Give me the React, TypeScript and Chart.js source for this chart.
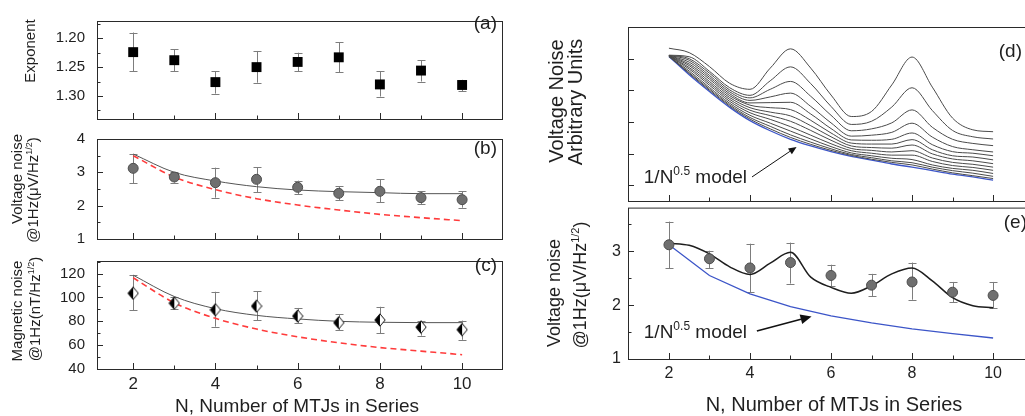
import { useEffect, useRef } from 'react';
import { Chart, registerables } from 'chart.js';

Chart.register(...registerables);

const FONT = '"Liberation Sans", Arial, Helvetica, sans-serif';
const INK = '#1f1f1f';
const FRAME = '#2a2a2a';
const ERR = '#7d7d7d';

// ---------------- data ----------------
const nMTJ = [2, 3, 4, 5, 6, 7, 8, 9, 10];
const xMajor = [2, 4, 6, 8, 10];
const xMinor = [3, 5, 7, 9];
const xTickLabels = ['2', '4', '6', '8', '10'];

// (a) exponent
const exponent = [1.224, 1.238, 1.276, 1.25, 1.241, 1.233, 1.28, 1.256, 1.281];
const exponentErrA = [1.19, 1.219, 1.257, 1.222, 1.225, 1.207, 1.257, 1.238, 1.272];
const exponentErrB = [1.257, 1.257, 1.296, 1.277, 1.257, 1.259, 1.301, 1.275, 1.292];
const expTicks = [1.2, 1.25, 1.3];
const expTickLabels = ['1.20', '1.25', '1.30'];
const expMinor = [1.175, 1.225, 1.275, 1.325];

// (b) / (e) voltage noise
const voltNoise = [3.12, 2.86, 2.69, 2.79, 2.55, 2.37, 2.43, 2.24, 2.18];
const voltNoiseHigh = [3.55, 3.01, 3.14, 3.16, 2.75, 2.58, 2.79, 2.43, 2.43];
const voltNoiseLow = [2.68, 2.69, 2.24, 2.4, 2.35, 2.17, 2.1, 2.05, 1.94];
const voltFitB = [3.55, 3.0, 2.74, 2.57, 2.47, 2.42, 2.39, 2.36, 2.36];
const voltModelB = [3.5, 2.86, 2.48, 2.21, 2.02, 1.87, 1.74, 1.64, 1.55];
const voltTicks = [1, 2, 3, 4];
const voltTickLabels = ['1', '2', '3', '4'];
const voltMinor = [1.5, 2.5, 3.5];

// (c) magnetic noise
const magNoise = [103.5, 95.2, 89.7, 92.7, 84.4, 78.9, 81.1, 75.1, 73.0];
const magNoiseHigh = [118.9, 100.2, 104.8, 105.3, 91.2, 85.9, 92.2, 80.6, 80.6];
const magNoiseLow = [89.4, 90.2, 75.5, 81.0, 78.3, 72.5, 70.0, 68.0, 64.5];
const magFit = [118.7, 100.8, 90.6, 85.0, 82.0, 80.0, 79.2, 78.9, 78.9];
const magModel = [116.5, 95.5, 82.5, 73.5, 67.0, 62.0, 58.0, 55.0, 52.0];
const magTicks = [40, 60, 80, 100, 120];
const magTickLabels = ['40', '60', '80', '100', '120'];
const magMinor = [50, 70, 90, 110, 130];

// (d) simulated family (arbitrary units)
const nFine = [2, 2.5, 3, 3.5, 4, 4.5, 5, 5.5, 6, 6.5, 7, 7.5, 8, 8.5, 9, 9.5, 10];
const dModel = [4.57, 3.99, 3.46, 2.96, 2.54, 2.22, 1.95, 1.74, 1.56, 1.41, 1.29, 1.17, 1.07, 0.96, 0.85, 0.76, 0.66];
const dCurve12 = [4.83, 4.69, 4.25, 3.72, 3.53, 4.2, 4.81, 4.2, 3.35, 2.67, 2.83, 3.67, 4.55, 3.6, 2.62, 2.25, 2.19];
const dCurve11 = [4.61, 4.56, 4.1, 3.58, 3.34, 3.8, 4.24, 3.71, 2.99, 2.42, 2.52, 2.97, 3.58, 2.86, 2.23, 2.03, 1.96];
const dCurve10 = [4.6, 4.5, 4.04, 3.51, 3.26, 3.53, 3.78, 3.31, 2.71, 2.22, 2.28, 2.47, 2.88, 2.33, 1.95, 1.82, 1.75];
const dCurve9 = [4.6, 4.45, 3.97, 3.45, 3.18, 3.29, 3.41, 2.99, 2.47, 2.05, 2.08, 2.17, 2.46, 2.02, 1.72, 1.62, 1.55];
const dCurve8 = [4.59, 4.39, 3.91, 3.39, 3.1, 3.11, 3.12, 2.75, 2.29, 1.93, 1.92, 1.95, 2.15, 1.78, 1.56, 1.51, 1.43];
const dCurve7 = [4.59, 4.33, 3.85, 3.33, 3.03, 2.95, 2.89, 2.55, 2.15, 1.83, 1.8, 1.8, 1.94, 1.62, 1.43, 1.39, 1.3];
const dCurve6 = [4.58, 4.28, 3.78, 3.27, 2.95, 2.81, 2.69, 2.38, 2.03, 1.74, 1.69, 1.67, 1.77, 1.49, 1.33, 1.27, 1.18];
const dCurve5 = [4.58, 4.22, 3.72, 3.21, 2.87, 2.7, 2.52, 2.23, 1.92, 1.66, 1.6, 1.55, 1.59, 1.36, 1.22, 1.16, 1.07];
const dCurve4 = [4.58, 4.17, 3.66, 3.15, 2.79, 2.58, 2.35, 2.08, 1.81, 1.59, 1.51, 1.45, 1.45, 1.25, 1.12, 1.06, 0.97];
const dCurve3 = [4.57, 4.11, 3.59, 3.09, 2.71, 2.46, 2.21, 1.96, 1.72, 1.52, 1.43, 1.35, 1.31, 1.14, 1.03, 0.97, 0.87];
const dCurve2 = [4.57, 4.06, 3.54, 3.04, 2.64, 2.36, 2.09, 1.86, 1.65, 1.47, 1.37, 1.27, 1.21, 1.07, 0.96, 0.88, 0.78];
const dCurve1 = [4.57, 4.03, 3.5, 3.0, 2.59, 2.28, 2.01, 1.79, 1.6, 1.44, 1.32, 1.22, 1.14, 1.01, 0.89, 0.8, 0.71];
const dCurves = [dCurve12, dCurve11, dCurve10, dCurve9, dCurve8, dCurve7, dCurve6, dCurve5, dCurve4, dCurve3, dCurve2, dCurve1];
const dTicks = [0.5, 1.5, 2.5, 3.5, 4.5];

// (e) oscillating fit and model
const eFit = [3.15, 3.11, 2.95, 2.71, 2.57, 2.78, 2.98, 2.52, 2.33, 2.22, 2.36, 2.58, 2.69, 2.45, 2.14, 1.99, 1.95];
const eModel = [3.12, 2.55, 2.21, 1.97, 1.8, 1.67, 1.56, 1.47, 1.39];
const eTicks = [1, 2, 3];
const eTickLabels = ['1', '2', '3'];
const eMinor = [1.5, 2.5, 3.5];

// ---------------- helpers ----------------
type Part = { t: string; sup?: boolean };

function drawRich(ctx: CanvasRenderingContext2D, parts: Part[], x: number, y: number, size: number, align: 'left' | 'center' | 'right') {
  const supSize = Math.round(size * 0.62);
  const widths = parts.map((p) => {
    ctx.font = `${p.sup ? supSize : size}px ${FONT}`;
    return ctx.measureText(p.t).width;
  });
  const total = widths.reduce((a, b) => a + b, 0);
  let cx = align === 'center' ? x - total / 2 : align === 'right' ? x - total : x;
  ctx.textAlign = 'left';
  ctx.textBaseline = 'alphabetic';
  parts.forEach((p, i) => {
    ctx.font = `${p.sup ? supSize : size}px ${FONT}`;
    ctx.fillText(p.t, cx, p.sup ? y - size * 0.4 : y);
    cx += widths[i];
  });
}

function pts(xs: number[], ys: number[]) {
  return xs.map((x, i) => ({ x, y: ys[i] }));
}

function makeDiamond(): HTMLCanvasElement {
  const c = document.createElement('canvas');
  c.width = 12;
  c.height = 14;
  const g = c.getContext('2d')!;
  g.beginPath();
  g.moveTo(6, 0.8);
  g.lineTo(11.2, 7);
  g.lineTo(6, 13.2);
  g.lineTo(0.8, 7);
  g.closePath();
  g.fillStyle = '#fff';
  g.fill();
  g.beginPath();
  g.moveTo(6, 0.8);
  g.lineTo(6, 13.2);
  g.lineTo(0.8, 7);
  g.closePath();
  g.fillStyle = '#000';
  g.fill();
  g.beginPath();
  g.moveTo(6, 0.8);
  g.lineTo(11.2, 7);
  g.lineTo(6, 13.2);
  g.lineTo(0.8, 7);
  g.closePath();
  g.strokeStyle = '#111';
  g.lineWidth = 1;
  g.stroke();
  return c;
}

interface Title { parts: Part[]; bx: number; cy: number; size: number }
interface Note { parts: Part[]; x: number; y: number; size: number }
interface Arrow { x0: number; y0: number; x1: number; y1: number; head: number; half: number; width: number }

interface Spec {
  left: number; top: number; width: number; height: number;
  area: { l: number; t: number; r: number; b: number };
  xMin: number; xMax: number; yMin: number; yMax: number; yReverse?: boolean;
  yTicks: number[]; yLabels: string[]; yMinor: number[]; showYLabels: boolean; yFont: number; yPad: number;
  showX: boolean; xFont: number;
  datasets: any[];
  errorBars?: { x: number[]; lo: number[]; hi: number[] };
  label: { text: string; x: number; y: number };
  titles: Title[];
  xTitle?: { text: string; cx: number; by: number; size: number };
  notes?: Note[];
  arrows?: Arrow[];
}

const BOXES = [
  { left: 0, top: 0, width: 520, height: 140 },
  { left: 0, top: 118, width: 520, height: 142 },
  { left: 0, top: 240, width: 520, height: 176 },
  { left: 520, top: 0, width: 525, height: 213 },
  { left: 520, top: 191, width: 525, height: 225 },
];

function buildChart(canvas: HTMLCanvasElement, s: Spec): Chart {
  const yW = s.area.l - s.left;
  const padRight = s.left + s.width - s.area.r;
  const padTop = s.area.t - s.top;
  const below = s.top + s.height - s.area.b;
  const xH = s.showX ? below : 0;
  const padBottom = s.showX ? 0 : below;

  const decor = {
    id: 'decor',
    beforeDatasetsDraw(chart: any) {
      if (!s.errorBars) return;
      const ctx: CanvasRenderingContext2D = chart.ctx;
      const xs = chart.scales.x;
      const ys = chart.scales.y;
      ctx.save();
      ctx.strokeStyle = ERR;
      ctx.lineWidth = 1;
      s.errorBars.x.forEach((xv, i) => {
        const px = Math.round(xs.getPixelForValue(xv)) + 0.5;
        const p1 = ys.getPixelForValue(s.errorBars!.lo[i]);
        const p2 = ys.getPixelForValue(s.errorBars!.hi[i]);
        ctx.beginPath();
        ctx.moveTo(px, p1);
        ctx.lineTo(px, p2);
        ctx.moveTo(px - 4, Math.round(p1) + 0.5);
        ctx.lineTo(px + 4, Math.round(p1) + 0.5);
        ctx.moveTo(px - 4, Math.round(p2) + 0.5);
        ctx.lineTo(px + 4, Math.round(p2) + 0.5);
        ctx.stroke();
      });
      ctx.restore();
    },
    afterDatasetsDraw(chart: any) {
      const ctx: CanvasRenderingContext2D = chart.ctx;
      const xs = chart.scales.x;
      const ys = chart.scales.y;
      const a = chart.chartArea;
      const ox = s.left;
      const oy = s.top;
      ctx.save();
      // frame
      ctx.strokeStyle = FRAME;
      ctx.lineWidth = 1;
      ctx.strokeRect(a.left + 0.5, a.top + 0.5, a.right - a.left, a.bottom - a.top);
      // y ticks (inward)
      ctx.beginPath();
      s.yTicks.forEach((v) => {
        const py = Math.round(ys.getPixelForValue(v)) + 0.5;
        ctx.moveTo(a.left, py);
        ctx.lineTo(a.left + 6, py);
      });
      s.yMinor.forEach((v) => {
        const py = Math.round(ys.getPixelForValue(v)) + 0.5;
        if (py < a.top || py > a.bottom) return;
        ctx.moveTo(a.left, py);
        ctx.lineTo(a.left + 3.5, py);
      });
      // x ticks (inward, bottom edge)
      xMajor.forEach((v) => {
        const px = Math.round(xs.getPixelForValue(v)) + 0.5;
        ctx.moveTo(px, a.bottom);
        ctx.lineTo(px, a.bottom - 6);
      });
      xMinor.forEach((v) => {
        const px = Math.round(xs.getPixelForValue(v)) + 0.5;
        ctx.moveTo(px, a.bottom);
        ctx.lineTo(px, a.bottom - 3.5);
      });
      ctx.stroke();

      ctx.fillStyle = INK;
      // panel label
      ctx.font = `19px ${FONT}`;
      ctx.textAlign = 'right';
      ctx.textBaseline = 'alphabetic';
      ctx.fillText(s.label.text, s.label.x - ox, s.label.y - oy);

      // y titles (rotated)
      s.titles.forEach((t) => {
        ctx.save();
        ctx.translate(t.bx - ox, t.cy - oy);
        ctx.rotate(-Math.PI / 2);
        drawRich(ctx, t.parts, 0, 0, t.size, 'center');
        ctx.restore();
      });

      // x title
      if (s.xTitle) {
        ctx.font = `${s.xTitle.size}px ${FONT}`;
        ctx.textAlign = 'center';
        ctx.textBaseline = 'alphabetic';
        ctx.fillText(s.xTitle.text, s.xTitle.cx - ox, s.xTitle.by - oy);
      }

      // notes in data coordinates
      (s.notes || []).forEach((n) => {
        drawRich(ctx, n.parts, xs.getPixelForValue(n.x), ys.getPixelForValue(n.y), n.size, 'left');
      });

      // arrows in data coordinates
      (s.arrows || []).forEach((ar) => {
        const x0 = xs.getPixelForValue(ar.x0);
        const y0 = ys.getPixelForValue(ar.y0);
        const x1 = xs.getPixelForValue(ar.x1);
        const y1 = ys.getPixelForValue(ar.y1);
        const ang = Math.atan2(y1 - y0, x1 - x0);
        const bx = x1 - ar.head * Math.cos(ang);
        const by = y1 - ar.head * Math.sin(ang);
        ctx.strokeStyle = '#111';
        ctx.fillStyle = '#111';
        ctx.lineWidth = ar.width;
        ctx.beginPath();
        ctx.moveTo(x0, y0);
        ctx.lineTo(bx, by);
        ctx.stroke();
        ctx.beginPath();
        ctx.moveTo(x1, y1);
        ctx.lineTo(bx + ar.half * Math.sin(ang), by - ar.half * Math.cos(ang));
        ctx.lineTo(bx - ar.half * Math.sin(ang), by + ar.half * Math.cos(ang));
        ctx.closePath();
        ctx.fill();
      });
      ctx.restore();
    },
  };

  return new Chart(canvas, {
    type: 'line',
    data: { datasets: s.datasets },
    options: {
      animation: false,
      responsive: false,
      maintainAspectRatio: false,
      devicePixelRatio: 1,
      layout: { padding: { left: 0, right: padRight, top: padTop, bottom: padBottom } },
      plugins: { legend: { display: false }, tooltip: { enabled: false }, title: { display: false } },
      elements: { line: { borderWidth: 1 } },
      scales: {
        x: {
          type: 'linear',
          min: s.xMin,
          max: s.xMax,
          afterBuildTicks: (sc: any) => {
            sc.ticks = xMajor.map((v) => ({ value: v }));
          },
          afterFit: (sc: any) => {
            sc.height = xH;
          },
          ticks: {
            display: s.showX,
            autoSkip: false,
            maxRotation: 0,
            padding: 5,
            color: INK,
            font: { family: FONT, size: s.xFont },
            callback: (_v: any, i: number) => xTickLabels[i],
          },
          grid: { display: false, drawTicks: false },
          border: { display: false },
        },
        y: {
          type: 'linear',
          min: s.yMin,
          max: s.yMax,
          reverse: !!s.yReverse,
          afterBuildTicks: (sc: any) => {
            sc.ticks = s.yTicks.map((v) => ({ value: v }));
          },
          afterFit: (sc: any) => {
            sc.width = yW;
          },
          ticks: {
            display: s.showYLabels,
            autoSkip: false,
            padding: s.yPad,
            color: INK,
            font: { family: FONT, size: s.yFont },
            callback: (_v: any, i: number) => s.yLabels[i],
          },
          grid: { display: false, drawTicks: false },
          border: { display: false },
        },
      },
    } as any,
    plugins: [decor as any],
  });
}

const sup12: Part[] = [{ t: '1/2', sup: true }];

function makeSpecs(diamond: HTMLCanvasElement): Spec[] {
  const leftArea = { l: 97, r: 502 };
  const rightArea = { l: 628, r: 1032 };
  const circle = {
    showLine: false,
    pointStyle: 'circle',
    pointRadius: 5,
    pointBackgroundColor: '#6f6f6f',
    pointBorderColor: '#4d4d4d',
    pointBorderWidth: 1,
  };
  const fitStyle = (color: string, w: number) => ({
    borderColor: color,
    borderWidth: w,
    pointRadius: 0,
    cubicInterpolationMode: 'monotone',
    fill: false,
  });
  const redDash = {
    borderColor: '#ff3b3b',
    borderWidth: 1.6,
    borderDash: [6, 4],
    pointRadius: 0,
    cubicInterpolationMode: 'monotone',
    fill: false,
  };
  const modelNote: Part[] = [{ t: '1/N' }, { t: '0.5', sup: true }, { t: ' model' }];

  const a: Spec = {
    ...BOXES[0],
    area: { ...leftArea, t: 10, b: 128 },
    xMin: 1.12, xMax: 10.97, yMin: 1.17, yMax: 1.34, yReverse: true,
    yTicks: expTicks, yLabels: expTickLabels, yMinor: expMinor, showYLabels: true, yFont: 15, yPad: 12,
    showX: false, xFont: 17,
    datasets: [
      {
        data: pts(nMTJ, exponent),
        showLine: false,
        pointStyle: 'rect',
        pointRadius: 7,
        pointBackgroundColor: '#000',
        pointBorderColor: '#000',
        pointBorderWidth: 0,
      },
    ],
    errorBars: { x: nMTJ, lo: exponentErrA, hi: exponentErrB },
    label: { text: '(a)', x: 497, y: 29 },
    titles: [{ parts: [{ t: 'Exponent' }], bx: 35, cy: 51, size: 15 }],
  };

  const b: Spec = {
    ...BOXES[1],
    area: { ...leftArea, t: 128, b: 250 },
    xMin: 1.12, xMax: 10.97, yMin: 1, yMax: 4,
    yTicks: voltTicks, yLabels: voltTickLabels, yMinor: voltMinor, showYLabels: true, yFont: 15, yPad: 12,
    showX: false, xFont: 17,
    datasets: [
      { data: pts(nMTJ, voltNoise), ...circle },
      { data: pts(nMTJ, voltFitB), ...fitStyle('#555', 1) },
      { data: pts(nMTJ, voltModelB), ...redDash },
    ],
    errorBars: { x: nMTJ, lo: voltNoiseLow, hi: voltNoiseHigh },
    label: { text: '(b)', x: 497, y: 154 },
    titles: [
      { parts: [{ t: 'Voltage noise' }], bx: 22, cy: 179, size: 15 },
      { parts: [{ t: '@1Hz(\u03BCV/Hz' }, ...sup12, { t: ')' }], bx: 38, cy: 190, size: 15 },
    ],
  };

  const c: Spec = {
    ...BOXES[2],
    area: { ...leftArea, t: 250, b: 369 },
    xMin: 1.12, xMax: 10.97, yMin: 40, yMax: 130.6,
    yTicks: magTicks, yLabels: magTickLabels, yMinor: magMinor, showYLabels: true, yFont: 15, yPad: 12,
    showX: true, xFont: 17,
    datasets: [
      { data: pts(nMTJ, magNoise), showLine: false, pointStyle: diamond, pointRadius: 6 },
      { data: pts(nMTJ, magFit), ...fitStyle('#555', 1) },
      { data: pts(nMTJ, magModel), ...redDash },
    ],
    errorBars: { x: nMTJ, lo: magNoiseLow, hi: magNoiseHigh },
    label: { text: '(c)', x: 497, y: 271 },
    titles: [
      { parts: [{ t: 'Magnetic noise' }], bx: 22, cy: 311, size: 15 },
      { parts: [{ t: '@1Hz(nT/Hz' }, ...sup12, { t: ')' }], bx: 40, cy: 309, size: 15 },
    ],
    xTitle: { text: 'N, Number of MTJs in Series', cx: 297, by: 412, size: 19 },
  };

  const d: Spec = {
    ...BOXES[3],
    area: { ...rightArea, t: 27, b: 201 },
    xMin: 0.99, xMax: 10.96, yMin: 0, yMax: 5.5,
    yTicks: dTicks, yLabels: dTicks.map(() => ''), yMinor: [], showYLabels: false, yFont: 16, yPad: 7,
    showX: false, xFont: 16,
    datasets: [
      ...dCurves.map((cv) => ({ data: pts(nFine, cv), ...fitStyle('#4a4a4a', 1) })),
      { data: pts(nFine, dModel), ...fitStyle('#3c55c8', 1.3) },
    ],
    label: { text: '(d)', x: 1022, y: 57 },
    titles: [
      { parts: [{ t: 'Voltage Noise' }], bx: 563, cy: 101, size: 20 },
      { parts: [{ t: 'Arbitrary Units' }], bx: 582, cy: 102, size: 20 },
    ],
    notes: [{ parts: modelNote, x: 1.38, y: 0.58, size: 19 }],
    arrows: [{ x0: 4.05, y0: 0.76, x1: 5.15, y1: 1.71, head: 8, half: 3.5, width: 1 }],
  };

  const e: Spec = {
    ...BOXES[4],
    area: { ...rightArea, t: 201, b: 359 },
    xMin: 0.99, xMax: 10.96, yMin: 1, yMax: 3.81,
    yTicks: eTicks, yLabels: eTickLabels, yMinor: eMinor, showYLabels: true, yFont: 16, yPad: 7,
    showX: true, xFont: 16,
    datasets: [
      { data: pts(nMTJ, voltNoise), ...circle },
      { data: pts(nFine, eFit), ...fitStyle('#1e1e1e', 1.5) },
      { data: pts(nMTJ, eModel), borderColor: '#3c55c8', borderWidth: 1.3, pointRadius: 0, tension: 0, fill: false },
    ],
    errorBars: { x: nMTJ, lo: voltNoiseLow, hi: voltNoiseHigh },
    label: { text: '(e)', x: 1027, y: 228 },
    titles: [
      { parts: [{ t: 'Voltage noise' }], bx: 560, cy: 293, size: 18 },
      { parts: [{ t: '@1Hz(\u03BCV/Hz' }, ...sup12, { t: ')' }], bx: 586, cy: 285, size: 18 },
    ],
    xTitle: { text: 'N, Number of MTJs in Series', cx: 834, by: 411, size: 20 },
    notes: [{ parts: modelNote, x: 1.38, y: 1.39, size: 19 }],
    arrows: [{ x0: 4.17, y0: 1.52, x1: 5.52, y1: 1.79, head: 11, half: 5, width: 1.6 }],
  };

  return [a, b, c, d, e];
}

export default function App() {
  const r0 = useRef<HTMLCanvasElement>(null);
  const r1 = useRef<HTMLCanvasElement>(null);
  const r2 = useRef<HTMLCanvasElement>(null);
  const r3 = useRef<HTMLCanvasElement>(null);
  const r4 = useRef<HTMLCanvasElement>(null);
  const refs = [r0, r1, r2, r3, r4];

  useEffect(() => {
    const diamond = makeDiamond();
    const specs = makeSpecs(diamond);
    const charts = specs.map((s, i) => buildChart(refs[i].current as HTMLCanvasElement, s));
    return () => charts.forEach((ch) => ch.destroy());
    // eslint-disable-next-line react-hooks/exhaustive-deps
  }, []);

  return (
    <div
      style={{
        position: 'fixed',
        left: 0,
        top: 0,
        width: 1025,
        height: 416,
        overflow: 'hidden',
        background: '#fff',
      }}
    >
      {BOXES.map((bx, i) => (
        <canvas
          key={i}
          ref={refs[i]}
          width={bx.width}
          height={bx.height}
          style={{ position: 'absolute', left: bx.left, top: bx.top, width: bx.width, height: bx.height }}
        />
      ))}
    </div>
  );
}
